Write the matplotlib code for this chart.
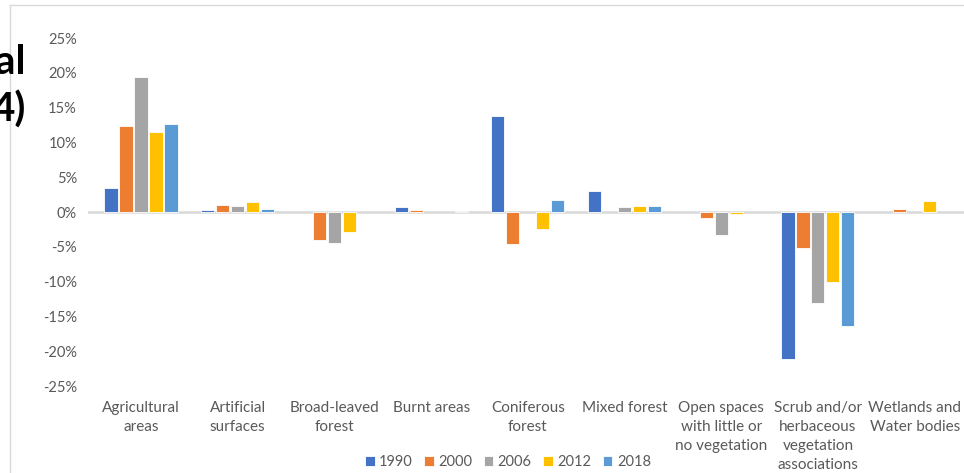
import matplotlib
matplotlib.use("Agg")
import matplotlib.pyplot as plt
import numpy as np
from matplotlib.lines import Line2D
from matplotlib.ticker import FuncFormatter

categories = ["Agricultural\nareas", "Artificial\nsurfaces", "Broad-leaved\nforest", "Burnt areas",
              "Coniferous\nforest", "Mixed forest", "Open spaces\nwith little or\nno vegetation",
              "Scrub and/or\nherbaceous\nvegetation\nassociations", "Wetlands and\nWater bodies"]
years = ["1990", "2000", "2006", "2012", "2018"]
v1990 = [3.4, 0.3, 0.0, 0.7, 13.8, 3.0, 0.0, -21.1, 0.0]
v2000 = [12.4, 1.0, -4.0, 0.3, -4.6, 0.0, -0.8, -5.2, 0.5]
v2006 = [19.4, 0.9, -4.5, 0.0, 0.0, 0.7, -3.3, -13.1, 0.0]
v2012 = [11.5, 1.4, -2.9, 0.0, -2.5, 0.9, -0.3, -10.1, 1.6]
v2018 = [12.6, 0.4, 0.0, 0.2, 1.7, 0.9, 0.0, -16.4, 0.0]
series = [v1990, v2000, v2006, v2012, v2018]
colors = ["#4472C4", "#ED7D31", "#A5A5A5", "#FFC000", "#5B9BD5"]

plt.rcParams['font.family'] = ['Lato', 'DejaVu Sans']
fig = plt.figure(figsize=(9.64, 4.73), dpi=100)
ax = fig.add_axes([88/964, 1-386/473, 876/964, 348/473])

x = np.arange(len(categories))
step = 0.155
bw = 0.135
for i, (vals, c, yr) in enumerate(zip(series, colors, years)):
    vals = np.array(vals)
    lws = [0.6 if v != 0 else 0 for v in vals]
    ax.bar(x + (i-2)*step, vals/100, width=bw, color=c, label=yr,
           edgecolor="white", linewidth=lws, zorder=3)

ax.axhline(0, color="#d9d9d9", lw=1.8, zorder=2)
ax.set_xlim(-0.548, 8.51)
ax.set_ylim(-0.25, 0.25)
ax.set_yticks(np.arange(-0.25, 0.2501, 0.05))
ax.yaxis.set_major_formatter(FuncFormatter(lambda v, p: f"{round(v*100)}%"))
ax.set_xticks(x)
ax.set_xticklabels(categories, linespacing=1.45)
for s in ax.spines.values():
    s.set_visible(False)
ax.tick_params(axis='both', length=0, colors="#595959")
ax.tick_params(axis='y', pad=8, labelsize=10.5)
ax.tick_params(axis='x', pad=11, labelsize=11)

leg = ax.legend(loc="center", bbox_to_anchor=(508/964, 1-462/473), bbox_transform=fig.transFigure,
                ncol=5, frameon=False, fontsize=10.5, handlelength=0.65, handleheight=0.65,
                handletextpad=0.3, columnspacing=0.8)
for t in leg.get_texts():
    t.set_color("#595959")

fig.add_artist(Line2D([10/964, 10/964], [0, 1-5/473], color="#d9d9d9", lw=1, transform=fig.transFigure))
fig.add_artist(Line2D([10/964, 1], [1-5/473, 1-5/473], color="#d9d9d9", lw=1, transform=fig.transFigure))

fig.text(26/964, 1-62/473, "al", ha="right", va="center", fontsize=29, fontweight="bold", color="black")
fig.text(26/964, 1-110/473, "4)", ha="right", va="center", fontsize=29, fontweight="bold", color="black")

fig.savefig("out.png", dpi=100)
